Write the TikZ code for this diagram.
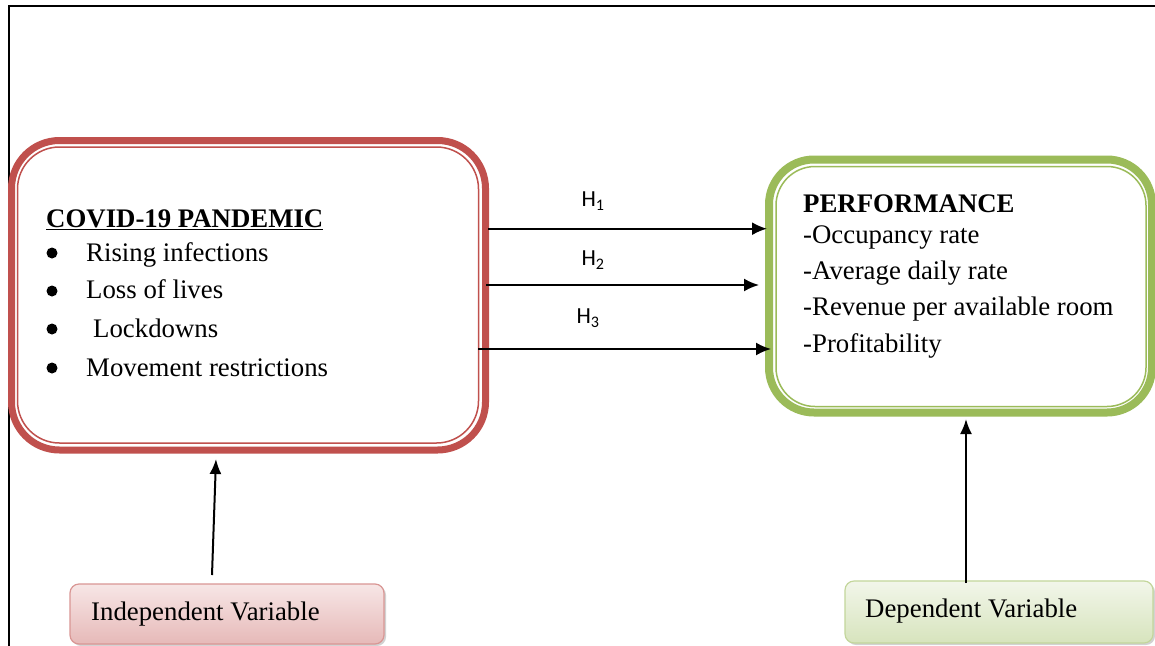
\documentclass[tikz,border=0pt]{standalone}
\usepackage{fontspec}
\setmainfont{Liberation Serif}
\newfontfamily\hfont{Carlito}
\usetikzlibrary{arrows.meta,calc,shadows}
\definecolor{cred}{HTML}{C0504D}
\definecolor{cgreen}{HTML}{9BBB59}
\definecolor{pinkb}{HTML}{D99694}
\definecolor{pinktop}{HTML}{F7E6E6}
\definecolor{pinkbot}{HTML}{E6B9B8}
\definecolor{greenb}{HTML}{C3D69B}
\definecolor{greentop}{HTML}{F2F6EA}
\definecolor{greenbot}{HTML}{D7E4BD}
\begin{document}
\begin{tikzpicture}[x=1pt,y=-1pt,
  txt/.style={font=\fontsize{26.8}{30}\selectfont, anchor=base west, inner sep=0pt},
  btxt/.style={font=\fontsize{26.8}{30}\selectfont\bfseries, anchor=base west, inner sep=0pt},
  hlab/.style={font=\hfont\fontsize{23}{26}\selectfont, inner sep=0pt},
  dot/.style={circle, fill=black, inner sep=0pt, minimum size=11pt},
  arr/.style={line width=2pt, -{Latex[length=15pt,width=13pt]}},
  varr/.style={line width=2pt, -{Latex[length=15pt,width=12pt]}},
  bigbox/.style={draw, inner sep=0pt, outer sep=0pt},
  varbox/.style={inner sep=0pt, rounded corners=9pt,
    drop shadow={shadow xshift=2pt, shadow yshift=-2pt, opacity=0.35}}
]
\useasboundingbox (0,0) rectangle (1155,645);
\fill[white] (0,0) rectangle (1155,645);
% outer frame
\draw[line width=2pt] (1156,6) -- (9,6) -- (9,646);

% red box
\node[bigbox, draw=cred, line width=7pt, rounded corners=48pt,
  minimum width=474pt, minimum height=309.5pt] (covid) at (248.5,295.25) {};
\draw[cred, line width=1.5pt, rounded corners=42pt]
  ($(covid.north west)+(6,6.5)$) rectangle ($(covid.south east)+(-7,-7)$);

% green box
\node[bigbox, draw=cgreen, line width=8pt, rounded corners=45pt,
  minimum width=383pt, minimum height=253pt] (perf) at (960.5,286) {};
\draw[cgreen, line width=1.5pt, rounded corners=39pt]
  ($(perf.north west)+(7,7)$) rectangle ($(perf.south east)+(-6,-6)$);

% left text
\node[btxt] (ttl) at (46,227) {\underline{COVID-19 PANDEMIC}};
\node[dot] (b1) at (52,253) {};
\node[dot] (b2) at (52,291) {};
\node[dot] (b3) at (52,329) {};
\node[dot] (b4) at (52,368) {};
\node[txt] (t1) at (86,261) {Rising infections};
\node[txt] (t2) at (86,298) {Loss of lives};
\node[txt] (t3) at (93,337) {Lockdowns};
\node[txt] (t4) at (86,376) {Movement restrictions};

% right text
\node[btxt] (pt) at (803,212) {PERFORMANCE};
\node[txt] (p1) at (803,243) {-Occupancy rate};
\node[txt] (p2) at (803,279) {-Average daily rate};
\node[txt] (p3) at (803,315) {-Revenue per available room};
\node[txt] (p4) at (803,352) {-Profitability};

% hypothesis arrows
\coordinate (a1s) at (488,228.7);
\coordinate (a1e) at (767,228.7);
\coordinate (a2s) at (486,285);
\coordinate (a2e) at (759,285);
\coordinate (a3s) at (478,349);
\coordinate (a3e) at (771,349);
\draw[arr] (a1s) -- (a1e);
\draw[arr] (a2s) -- (a2e);
\draw[arr] (a3s) -- (a3e);
\node[hlab] (h1) at (593,201) {H\textsubscript{1}};
\node[hlab] (h2) at (593,260) {H\textsubscript{2}};
\node[hlab] (h3) at (588,318) {H\textsubscript{3}};

% variable boxes
\node[varbox, draw=pinkb, line width=1.2pt, top color=pinktop, bottom color=pinkbot,
  minimum width=314pt, minimum height=60pt] (iv) at (227,614) {};
\node[txt] (ivt) at (91,620) {Independent Variable};
\node[varbox, draw=greenb, line width=1.2pt, top color=greentop, bottom color=greenbot,
  minimum width=308pt, minimum height=62pt] (dv) at (999,612) {};
\node[txt] (dvt) at (865,617) {Dependent Variable};

% vertical arrows
\coordinate (v1s) at (212,575);
\coordinate (v1e) at (216,459);
\coordinate (v2s) at (966,583);
\coordinate (v2e) at (966,419);
\draw[varr] (v1s) -- (v1e);
\draw[varr] (v2s) -- (v2e);
\end{tikzpicture}
\end{document}
